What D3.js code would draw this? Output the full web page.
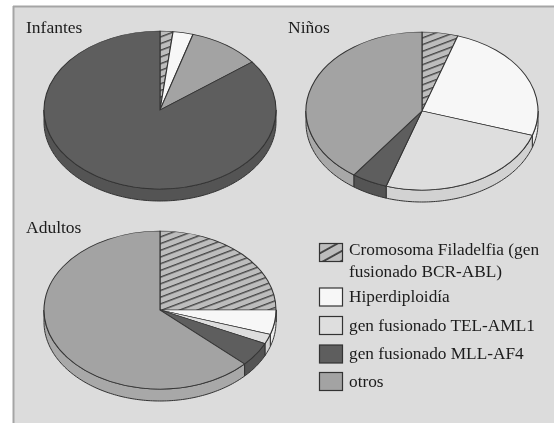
<!DOCTYPE html>
<html>
<head>
<meta charset="utf-8">
<script src="https://cdn.jsdelivr.net/npm/d3@7"></script>
<style>
    html, body { margin: 0; padding: 0; background: #fff; }
    svg { filter: blur(0.45px); }
    text { font-family: "Liberation Serif", serif; fill: #1c1c1c; }
</style>
</head>
<body>
<div id="chart"></div>
<script>
// Data (percent per slice, clockwise from 12 o'clock)
const categories = ["Cromosoma Filadelfia", "Hiperdiploidía", "gen fusionado TEL-AML1", "gen fusionado MLL-AF4", "otros"];
const legendLabels = [["Cromosoma Filadelfia (gen", "fusionado BCR-ABL)"], ["Hiperdiploidía"], ["gen fusionado TEL-AML1"], ["gen fusionado MLL-AF4"], ["otros"]];
const panelNames = ["Infantes", "Niños", "Adultos"];

const infantesOrder = [0, 1, 4, 3];
const infantesValues = [1.8, 2.8, 10, 85.4];
const ninosOrder = [0, 1, 2, 3, 4];
const ninosValues = [5, 25, 25, 5, 40];
const adultosOrder = [0, 1, 2, 3, 4];
const adultosValues = [25, 5, 2, 5, 63];

const topColors = ["#bdbdbd", "#f7f7f7", "#dedede", "#5e5e5e", "#a3a3a3"];
const sideColors = ["#bdbdbd", "#eeeeee", "#d2d2d2", "#545454", "#a8a8a8"];

const width = 554, height = 423;
const rx = 116, ry = 79, depth = 12;

const svg = d3.select("#chart").append("svg")
    .attr("width", width)
    .attr("height", height)
    .style("display", "block");

// hatch for the Philadelphia slices
const defs = svg.append("defs");
const hatch = defs.append("pattern")
    .attr("id", "hatch")
    .attr("patternUnits", "userSpaceOnUse")
    .attr("width", 12)
    .attr("height", 8.6)
    .attr("patternTransform", "rotate(-29)");
hatch.append("rect").attr("width", 12).attr("height", 8.6).attr("fill", topColors[0]);
hatch.append("line").attr("x1", 0).attr("x2", 12).attr("y1", 1).attr("y2", 1)
    .attr("stroke", "#2e2e2e").attr("stroke-width", 1.6);

// frame
svg.append("rect").attr("x", 13).attr("y", 6).attr("width", width - 13).attr("height", height - 6)
    .attr("fill", "#dcdcdc");
svg.append("line").attr("x1", 13).attr("x2", width).attr("y1", 6.5).attr("y2", 6.5)
    .attr("stroke", "#a5a5a5").attr("stroke-width", 2);
svg.append("line").attr("x1", 13.5).attr("x2", 13.5).attr("y1", 6).attr("y2", height)
    .attr("stroke", "#a5a5a5").attr("stroke-width", 2);

const pie = d3.pie().sort(null).value(d => d.value);
const arc = d3.arc().innerRadius(0).outerRadius(rx);

const panels = [
    {name: panelNames[0], order: infantesOrder, values: infantesValues, cx: 160, cy: 110, labelX: 26, labelY: 33},
    {name: panelNames[1], order: ninosOrder, values: ninosValues, cx: 422, cy: 111, labelX: 288, labelY: 33},
    {name: panelNames[2], order: adultosOrder, values: adultosValues, cx: 160, cy: 310, labelX: 26, labelY: 233}
];

// rim of the disc, only the part of a slice facing the viewer (pi/2 .. 3pi/2)
const rimPath = function (d) {
    const a0 = Math.max(d.startAngle, Math.PI / 2);
    const a1 = Math.min(d.endAngle, 3 * Math.PI / 2);
    if (a1 <= a0) return null;
    const angles = d3.range(a0, a1, 0.02).concat([a1]);
    const edge = angles.map(a => [rx * Math.sin(a), -ry * Math.cos(a)]);
    const lower = edge.slice().reverse().map(p => [p[0], p[1] + depth]);
    return d3.line()(edge.concat(lower)) + "Z";
};

panels.forEach(function (p) {
    const rows = p.values.map((v, i) => ({value: v, cat: p.order[i]}));
    const slices = pie(rows);
    const g = svg.append("g").attr("transform", "translate(" + p.cx + "," + p.cy + ")");

    g.selectAll(".rim")
        .data(slices)
        .enter().append("path")
        .attr("class", "rim")
        .attr("d", rimPath)
        .attr("fill", d => sideColors[d.data.cat])
        .attr("stroke", "#333")
        .attr("stroke-width", 1);

    g.append("g")
        .attr("transform", "scale(1," + (ry / rx) + ")")
        .selectAll(".slice")
        .data(slices)
        .enter().append("path")
        .attr("class", "slice")
        .attr("d", arc)
        .attr("fill", d => d.data.cat === 0 ? "url(#hatch)" : topColors[d.data.cat])
        .attr("stroke", "#333")
        .attr("stroke-width", 1.1);

    svg.append("text")
        .attr("x", p.labelX)
        .attr("y", p.labelY)
        .attr("font-size", 17.5)
        .text(p.name);
});

// legend
const legendY = d3.scaleOrdinal().domain(categories).range([252.5, 297, 325.5, 354, 381.5]);
const legend = svg.selectAll(".legend-item")
    .data(categories)
    .enter().append("g")
    .attr("class", "legend-item")
    .attr("transform", d => "translate(0," + legendY(d) + ")");

legend.append("rect")
    .attr("x", 319.5)
    .attr("y", -9)
    .attr("width", 23)
    .attr("height", 18)
    .attr("fill", (d, i) => i === 0 ? "url(#hatch)" : topColors[i])
    .attr("stroke", "#333")
    .attr("stroke-width", 1.2);

legend.each(function (d, i) {
    d3.select(this).selectAll("text")
        .data(legendLabels[i])
        .enter().append("text")
        .attr("x", 349)
        .attr("y", (t, j) => (i === 0 ? 2.5 : 5) + j * 22)
        .attr("font-size", 17.3)
        .text(t => t);
});
</script>
</body>
</html>
